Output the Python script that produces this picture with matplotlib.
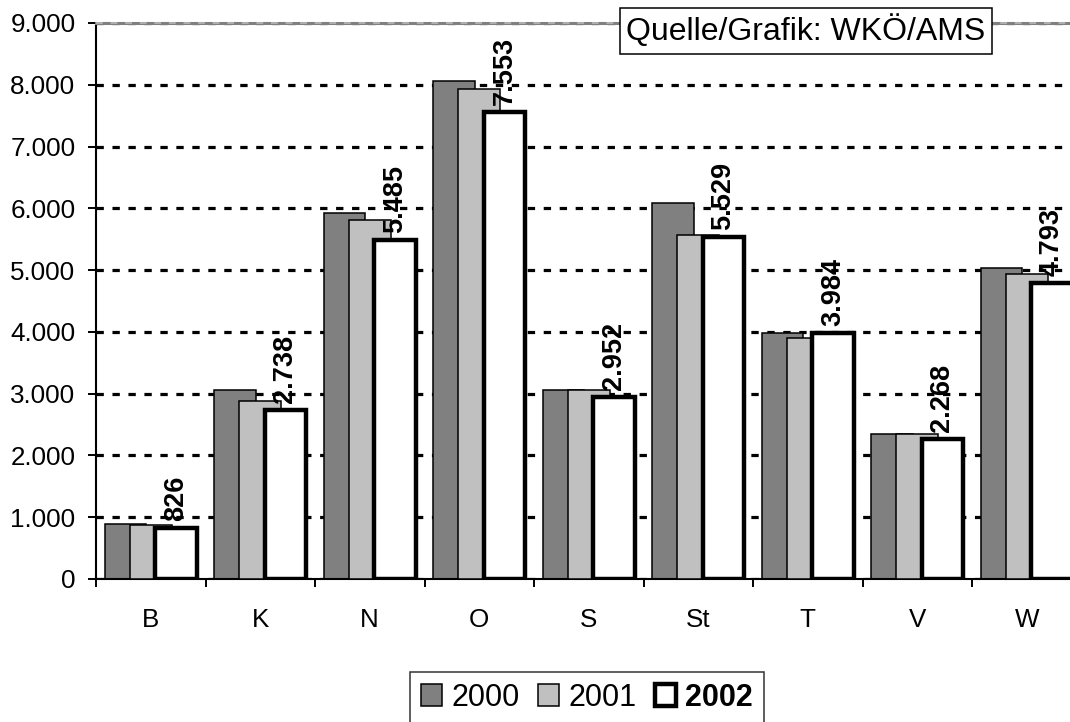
import numpy as np
import matplotlib
matplotlib.use('Agg')
from matplotlib import pyplot as plt
from matplotlib.ticker import FuncFormatter, FixedLocator

plt.rcParams['font.family'] = ['Liberation Sans', 'DejaVu Sans']

# Bundeslaender
laender = ['B', 'K', 'N', 'O', 'S', 'St', 'T', 'V', 'W']
jahre = ['2000', '2001', '2002']
werte_2000 = [885, 3060, 5920, 8060, 3055, 6080, 3985, 2355, 5040]
werte_2001 = [880, 2875, 5815, 7930, 3055, 5570, 3900, 2350, 4935]
werte_2002 = [826, 2738, 5485, 7553, 2952, 5529, 3984, 2268, 4793]

fig = plt.figure(figsize=(10.7, 7.22), dpi=100)
# Achse reicht rechts etwas ueber den Bildrand hinaus (wie im Original)
ax = fig.add_axes([96 / 1070, 1 - 579 / 722, (1081.5 - 96) / 1070, (579 - 23) / 722])

x = np.arange(len(laender))
step = 0.23
w = 0.38

b0 = ax.bar(x - step, werte_2000, w, color='#808080', edgecolor='black', linewidth=1.1, zorder=2, label=jahre[0])
b1 = ax.bar(x, werte_2001, w, color='#c0c0c0', edgecolor='black', linewidth=1.1, zorder=3, label=jahre[1])
b2 = ax.bar(x + step, werte_2002, w, color='white', edgecolor='black', linewidth=3.2, zorder=4, label=jahre[2])

# Datenbeschriftung 2002
for xi, v in zip(x + step, werte_2002):
    ax.annotate(f'{v:,}'.replace(',', '.'), (xi, v), xytext=(0, 5), textcoords='offset points',
                rotation=90, ha='center', va='bottom', fontsize=19.5, fontweight='bold', zorder=6)

ax.set_xlim(-0.5, len(laender) - 0.5)
ax.set_ylim(0, 9000)

ax.yaxis.set_major_locator(FixedLocator(np.arange(0, 9001, 1000)))
ax.yaxis.set_major_formatter(FuncFormatter(lambda v, p: f'{int(v):,}'.replace(',', '.')))
ax.tick_params(axis='y', direction='out', length=5.8, width=1.4, pad=9, labelsize=18.7)

ax.set_xticks(x)
ax.set_xticklabels(laender)
ax.set_xticks(np.arange(-0.5, len(laender)), minor=True)
ax.tick_params(axis='x', which='major', length=0, pad=21, labelsize=18.7)
ax.tick_params(axis='x', which='minor', direction='out', length=6, width=1.4)

ax.set_axisbelow(True)
ax.yaxis.grid(True, color='black', linewidth=2.3, linestyle=(0, (2.3, 2.7)))
ax.xaxis.grid(False)

ax.spines['right'].set_visible(False)
ax.spines['left'].set_linewidth(1.5)
ax.spines['bottom'].set_linewidth(1.5)
ax.spines['top'].set_color('#808080')
ax.spines['top'].set_linewidth(2.2)
ax.axhline(9000, color='#b0b0b0', linewidth=1.4, linestyle=(0, (3.5, 4)), zorder=5, clip_on=False)

leg = ax.legend(handles=[b0, b1, b2], loc='upper center', bbox_to_anchor=(587 / 1070, 1 - 672 / 722),
                bbox_transform=fig.transFigure, ncol=3, fontsize=22, frameon=True, fancybox=False,
                handlelength=0.7, handleheight=0.7, handletextpad=0.3, columnspacing=0.6,
                borderpad=0.35, borderaxespad=0)
leg.get_frame().set_edgecolor('black')
leg.get_frame().set_linewidth(1.1)
leg.get_texts()[2].set_fontweight('bold')

fig.text(806 / 1070, 1 - 31 / 722, 'Quelle/Grafik: WKÖ/AMS', ha='center', va='center', fontsize=23,
         bbox=dict(boxstyle='square,pad=0.2', fc='white', ec='black', lw=1.1), zorder=10)

fig.savefig('out.png', dpi=100)
